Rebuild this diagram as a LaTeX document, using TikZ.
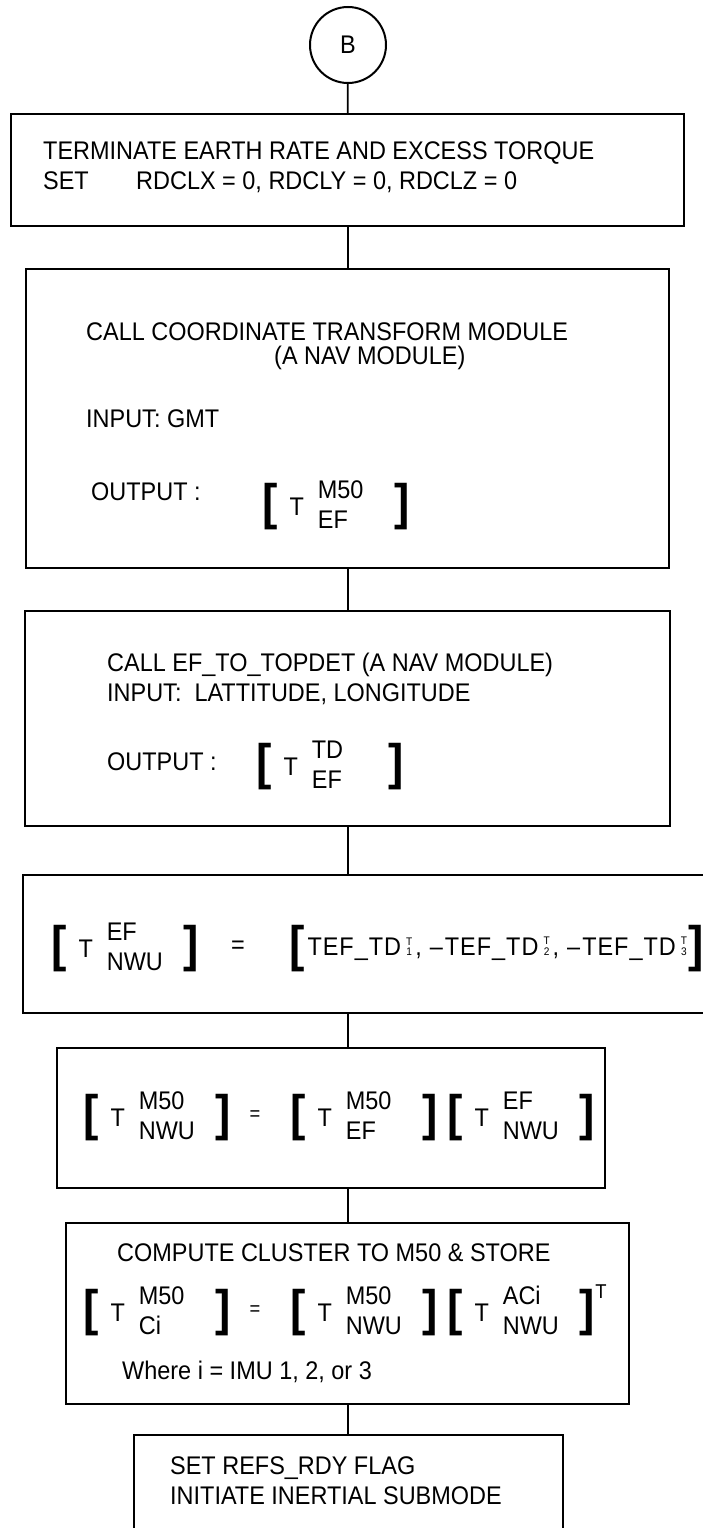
\documentclass[tikz,border=0pt]{standalone}
\usepackage{fontspec}
\setmainfont{Liberation Sans}[FakeStretch=0.92]
\usetikzlibrary{positioning}

\newcommand{\vc}[1]{$\vcenter{\hbox{#1}}$}
\newcommand{\bkl}{\vc{\fontsize{50}{50}\selectfont\bfseries[}}
\newcommand{\bkr}{\vc{\fontsize{50}{50}\selectfont\bfseries]}}
\newcommand{\tmat}[3][77pt]{\bkl\hspace{12pt}\vc{T}\hspace{14pt}%
  \vc{\makebox[#1][l]{\begin{tabular}{@{}l@{}}#2\\#3\end{tabular}}}\bkr}
\newcommand{\ts}[2]{{\fontsize{11}{11}\selectfont\shortstack{#1\\#2}}}
\newcommand{\tef}{T\kern1pt E\kern1pt F\kern1pt\_\kern1pt T\kern1pt D}

\begin{document}
\begin{tikzpicture}[x=1pt, y=-1pt,
  font=\fontsize{25.5}{30}\selectfont,
  box/.style={draw, line width=2.4pt, inner sep=0pt},
  txt/.style={anchor=north west, inner sep=0pt, align=left},
  mat/.style={anchor=west, inner sep=0pt},
  small/.style={font=\fontsize{20}{20}\selectfont},
  link/.style={line width=1.8pt}]
  \useasboundingbox (0,0) rectangle (702,1528);
  \coordinate (spine) at (348,0);

  % connector B and the boxes
  \node[circle, draw, line width=2pt, minimum size=76pt, inner sep=0pt] (conB) at (348,45) {B};
  \node[box, minimum width=673pt, minimum height=112pt] (term) at (347.5,170) {};
  \node[box, minimum width=643pt, minimum height=299pt] (coord) at (347.5,418.5) {};
  \node[box, minimum width=645pt, minimum height=215pt] (topdet) at (347.5,718.5) {};
  \node[box, minimum width=687pt, minimum height=138pt] (efnwu) at (366.5,944) {};
  \node[box, minimum width=548pt, minimum height=140pt] (mnwu) at (331,1118) {};
  \node[box, minimum width=563pt, minimum height=181pt] (clus) at (347.5,1313.5) {};
  \node[box, minimum width=429pt, minimum height=125pt] (refs) at (348.5,1497.5) {};

  % box texts
  \node[txt] (termT) at (43,141) {\baselineskip=31pt TERMINATE EARTH RATE AND EXCESS TORQUE\\
    \makebox[93pt][l]{SET}RDCLX = 0, RDCLY = 0, RDCLZ = 0};

  \node[txt] (coordT) at (86,322) {CALL COORDINATE TRANSFORM MODULE};
  \node[txt] (coordN) at (274,346) {(A NAV MODULE)};
  \node[txt] (coordI) at (86,409) {INPUT: GMT};
  \node[txt] (coordO) at (91,482) {OUTPUT :};
  \node[mat] (coordM) at (262,507) {\tmat{M50}{EF}};

  \node[txt] (topdetT) at (107,653) {CALL EF\_TO\_TOPDET (A NAV MODULE)\\
    INPUT:\ \ LATTITUDE, LONGITUDE};
  \node[txt] (topdetO) at (107,752) {OUTPUT :};
  \node[mat] (topdetM) at (256,767) {\tmat{TD}{EF}};

  \node[mat] (efnwuL) at (51,949) {\tmat{EF}{NWU}};
  \node (efnwuE) at (238,947) {=};
  \node[mat] (efnwuR) at (289,949) {\bkl\vc{\kern3pt\tef\kern5pt\ts{T}{1}\kern3pt,\kern8pt--\kern2pt
    \tef\kern5pt\ts{T}{2}\kern3pt,\kern8pt--\kern2pt\tef\kern5pt\ts{T}{3}\kern1pt}\bkr};

  \node[mat] (mnwuA) at (83,1118) {\tmat{M50}{NWU}};
  \node[small] (mnwuE) at (255,1116) {=};
  \node[mat] (mnwuB) at (290,1118) {\tmat{M50}{EF}};
  \node[mat] (mnwuC) at (447,1118) {\tmat{EF}{NWU}};

  \node[txt] (clusT) at (117,1243) {COMPUTE CLUSTER TO M50 \& STORE};
  \node[mat] (clusA) at (83,1313) {\tmat{M50}{Ci}};
  \node[small] (clusE) at (255,1311) {=};
  \node[mat] (clusB) at (290,1313) {\tmat{M50}{NWU}};
  \node[mat] (clusC) at (447,1313) {\tmat{ACi}{NWU}};
  \node[small] (clusS) at (601,1292) {T};
  \node[txt] (clusW) at (122,1361) {Where i = IMU 1, 2, or 3};

  \node[txt] (refsT) at (170,1456) {SET REFS\_RDY FLAG\\INITIATE INERTIAL SUBMODE};

  % flow lines
  \draw[link] (conB) -- (term);
  \foreach \a/\b in {term/coord, coord/topdet, topdet/efnwu, efnwu/mnwu,
                     mnwu/clus, clus/refs}
    \draw[link] (\a.south -| spine) -- (\b.north -| spine);
\end{tikzpicture}
\end{document}
